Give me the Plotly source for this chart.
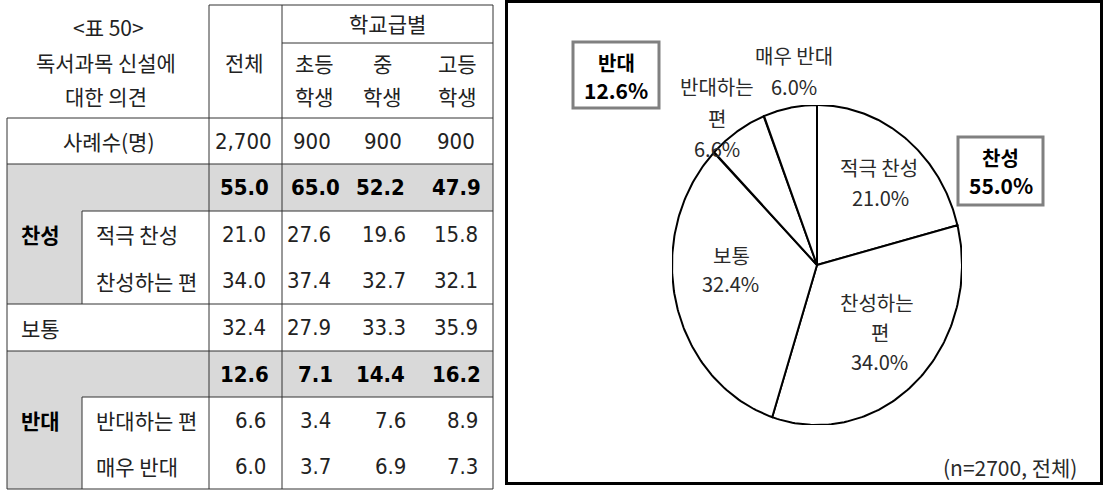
import numpy as np
import plotly.graph_objects as go

# ---- data ----
col_heads = ["전체", "초등", "중", "고등"]
row_labels = ["사례수(명)", "", "적극 찬성", "찬성하는 편", "보통", "", "반대하는 편", "매우 반대"]
sample_n = [2700, 900, 900, 900]
agree_total = [55.0, 65.0, 52.2, 47.9]
strong_agree = [21.0, 27.6, 19.6, 15.8]
agree = [34.0, 37.4, 32.7, 32.1]
neutral = [32.4, 27.9, 33.3, 35.9]
disagree_total = [12.6, 7.1, 14.4, 16.2]
disagree = [6.6, 3.4, 7.6, 8.9]
strong_disagree = [6.0, 3.7, 6.9, 7.3]

pie_labels = ["적극 찬성", "찬성하는 편", "보통", "반대하는 편", "매우 반대"]
pie_values = [strong_agree[0], agree[0], neutral[0], disagree[0], strong_disagree[0]]

KR = "Noto Sans CJK KR"
NUM = "DejaVu Sans Condensed, Liberation Sans Narrow, Liberation Sans, sans-serif"
INK = "#222222"
GRID = "#333333"
GRAY = "#d9d9d9"

fig = go.Figure()
shapes = []
annotations = []


def line(x0, y0, x1, y1, color=GRID, width=1):
    shapes.append(dict(type="line", xref="x", yref="y", x0=x0, y0=y0, x1=x1, y1=y1,
                       line=dict(color=color, width=width), layer="above"))


def text(x, y, s, size, family=KR, bold=False, anchor="center", color=INK):
    annotations.append(dict(x=x, y=y, xref="x", yref="y", text=s, showarrow=False,
                            xanchor=anchor, yanchor="middle",
                            font=dict(family=family, size=size, color=color,
                                      weight="bold" if bold else "normal")))


# ---- table ----
row_edges = [118, 164, 211, 257, 304, 351, 397, 443, 489]
row_mid = [(a + b) / 2 for a, b in zip(row_edges[:-1], row_edges[1:])]

for (y0, y1, x1) in [(164, 211, 493), (211, 304, 82), (351, 397, 493), (397, 489, 82)]:
    shapes.append(dict(type="rect", xref="x", yref="y", x0=7, x1=x1, y0=y0, y1=y1,
                       fillcolor=GRAY, line=dict(width=0), layer="below"))

line(209, 5, 493, 5)
line(282, 43, 493, 43)
for y in [118, 164, 304, 351, 489]:
    line(7, y, 493, y)
for y in [211, 397]:
    line(82, y, 493, y)
line(7, 118, 7, 489)
line(82, 211, 82, 304)
line(82, 397, 82, 489)
for x in [209, 282, 493]:
    line(x, 5, x, 489)

KS = 21
text(108, 27, "&lt;표 50&gt;", KS)
text(106, 62, "독서과목 신설에", KS)
text(106, 96, "대한 의견", KS)
text(387, 23, "학교급별", KS)
text(244, 62, col_heads[0], KS)
for x, h in zip([314, 382, 457], col_heads[1:]):
    text(x, 63, h, KS)
    text(x, 96, "학생", KS)

text(108, row_mid[0], row_labels[0], KS)
for i in [2, 3, 6, 7]:
    text(94, row_mid[i], row_labels[i], KS, anchor="left")
text(19, row_mid[4], row_labels[4], KS, anchor="left")
text(40, (164 + 304) / 2, "찬성", KS, bold=True, color="black")
text(40, (351 + 489) / 2, "반대", KS, bold=True, color="black")

x_center = [243, 312, 383, 456]
x_bold = [244, 315, 380, 456]
x_right = [268, 333, 408, 480]
for j, n in enumerate(sample_n):
    text(x_center[j], row_mid[0], f"{n:,}", 22, family=NUM)
for i, vals in [(1, agree_total), (5, disagree_total)]:
    for j, v in enumerate(vals):
        text(x_bold[j], row_mid[i], f"{v:.1f}", 22, family=NUM, bold=True, color="black")
for i, vals in [(2, strong_agree), (3, agree), (4, neutral), (6, disagree), (7, strong_disagree)]:
    for j, v in enumerate(vals):
        text(x_right[j], row_mid[i], f"{v:.1f}", 22, family=NUM, anchor="right")

# ---- pie panel ----
shapes.append(dict(type="rect", xref="x", yref="y", x0=506.5, x1=1101.5, y0=1.5, y1=483.5,
                   line=dict(color="black", width=3), fillcolor="rgba(0,0,0,0)"))

bounds = np.concatenate([[0], np.cumsum(pie_values)]) / sum(pie_values) * 2 * np.pi
for k, lab in enumerate(pie_labels):
    t = np.linspace(bounds[k], bounds[k + 1], 120)
    xs = np.concatenate([[0], np.sin(t), [0]])
    ys = np.concatenate([[0], np.cos(t), [0]])
    fig.add_trace(go.Scatter(x=xs, y=ys, xaxis="x2", yaxis="y2", mode="lines",
                             fill="toself", fillcolor="white",
                             line=dict(color="black", width=2),
                             name=lab, hoverinfo="name", showlegend=False))

pie_text_pos = {
    "적극 찬성": [(879, 167), (880, 197)],
    "찬성하는 편": [(877, 302), (880, 332), (879, 361)],
    "보통": [(731, 255), (730, 283)],
    "반대하는 편": [(717, 86), (717, 118), (717, 148)],
    "매우 반대": [(794, 55), (794, 86)],
}
for lab, v in zip(pie_labels, pie_values):
    pos = pie_text_pos[lab]
    parts = lab.split(" ") if len(pos) == 3 else [lab]
    for (x, y), s in zip(pos, parts + [f"{v:.1f}%"]):
        text(x, y, s, 20, color="#2a2a2a")

for (x0, x1, y0, y1), name, val in [((573, 659, 42, 108), "반대", disagree_total[0]),
                                     ((958, 1043, 137, 205), "찬성", agree_total[0])]:
    shapes.append(dict(type="rect", xref="x", yref="y", x0=x0, x1=x1, y0=y0, y1=y1,
                       line=dict(color="#808080", width=3), fillcolor="white"))
    cx = (x0 + x1) / 2
    text(cx, y0 + 20, name, 20, bold=True, color="black")
    text(cx, y0 + 48, f"{val:.1f}%", 21, bold=True, color="black")

text(1010, 467, "(n=2700, 전체)", 21, color="#2a2a2a")

W, H = 1104, 491
fig.update_layout(
    width=W, height=H,
    margin=dict(l=0, r=0, t=0, b=0),
    paper_bgcolor="white", plot_bgcolor="white",
    xaxis=dict(range=[0, W], domain=[0, 1], visible=False, fixedrange=True),
    yaxis=dict(range=[H, 0], domain=[0, 1], visible=False, fixedrange=True),
    xaxis2=dict(range=[-1, 1], domain=[672 / W, 962 / W], visible=False,
                anchor="y2", fixedrange=True),
    yaxis2=dict(range=[-1, 1], domain=[1 - 425 / H, 1 - 105 / H], visible=False,
                anchor="x2", fixedrange=True),
    shapes=shapes,
    annotations=annotations,
    showlegend=False,
)

fig.write_html("out.html", config={"displayModeBar": False},
               post_script="document.body.style.margin='0';")
